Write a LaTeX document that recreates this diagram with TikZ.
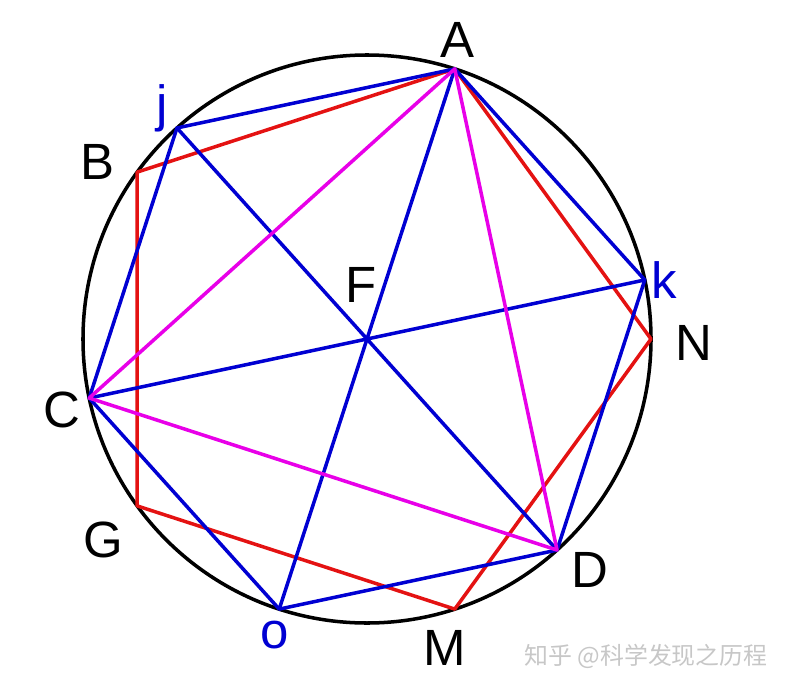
\documentclass[tikz,border=0pt]{standalone}
\usepackage{fontspec}
\setmainfont{Liberation Sans}
\newfontfamily\cjk{Noto Sans CJK SC}
\definecolor{pentred}{RGB}{228,18,18}
\definecolor{hexblue}{RGB}{0,0,210}
\definecolor{trimag}{RGB}{232,0,232}
\begin{document}
\begin{tikzpicture}[line width=1pt,line join=round,
  lab/.style={font=\fontsize{14.5}{16}\selectfont},
  blab/.style={lab,text=hexblue}]
\useasboundingbox (-3.67,-3.48) rectangle (4.19,3.39);
\def\R{2.84}
\coordinate (F) at (0,0);
% pentagon
\coordinate (N) at (0:\R);
\coordinate (A) at (72:\R);
\coordinate (B) at (144:\R);
\coordinate (G) at (216:\R);
\coordinate (M) at (288:\R);
% hexagon
\coordinate (k) at (12:\R);
\coordinate (j) at (132:\R);
\coordinate (C) at (192:\R);
\coordinate (o) at (252:\R);
\coordinate (D) at (312:\R);
\draw (F) circle(\R);
\draw[pentred](A)--(B)--(G)--(M)--(N)--cycle;
\draw[hexblue](A)--(j)--(C)--(o)--(D)--(k)--cycle;
\draw[hexblue](A)--(o) (j)--(D) (C)--(k);
\draw[trimag](A)--(C)--(D)--cycle;
\node[lab] (lA) at (0.90,2.99){A};
\node[blab] (lj) at (-2.05,2.31){j};
\node[lab] (lB) at (-2.70,1.77){B};
\node[lab] (lC) at (-3.05,-0.71){C};
\node[lab] (lG) at (-2.64,-2.01){G};
\node[blab] (lo) at (-0.92,-2.96){o};
\node[lab] (lM) at (0.78,-3.09){M};
\node[lab] (lD) at (2.23,-2.31){D};
\node[lab] (lN) at (3.27,-0.04){N};
\node[blab] (lk) at (2.97,0.59){k};
\node[lab] (lF) at (-0.06,0.54){F};
\node[font=\cjk\fontsize{6.8}{8}\selectfont,text=black!22] (wm) at (2.79,-3.17){知乎 @科学发现之历程};
\end{tikzpicture}
\end{document}
